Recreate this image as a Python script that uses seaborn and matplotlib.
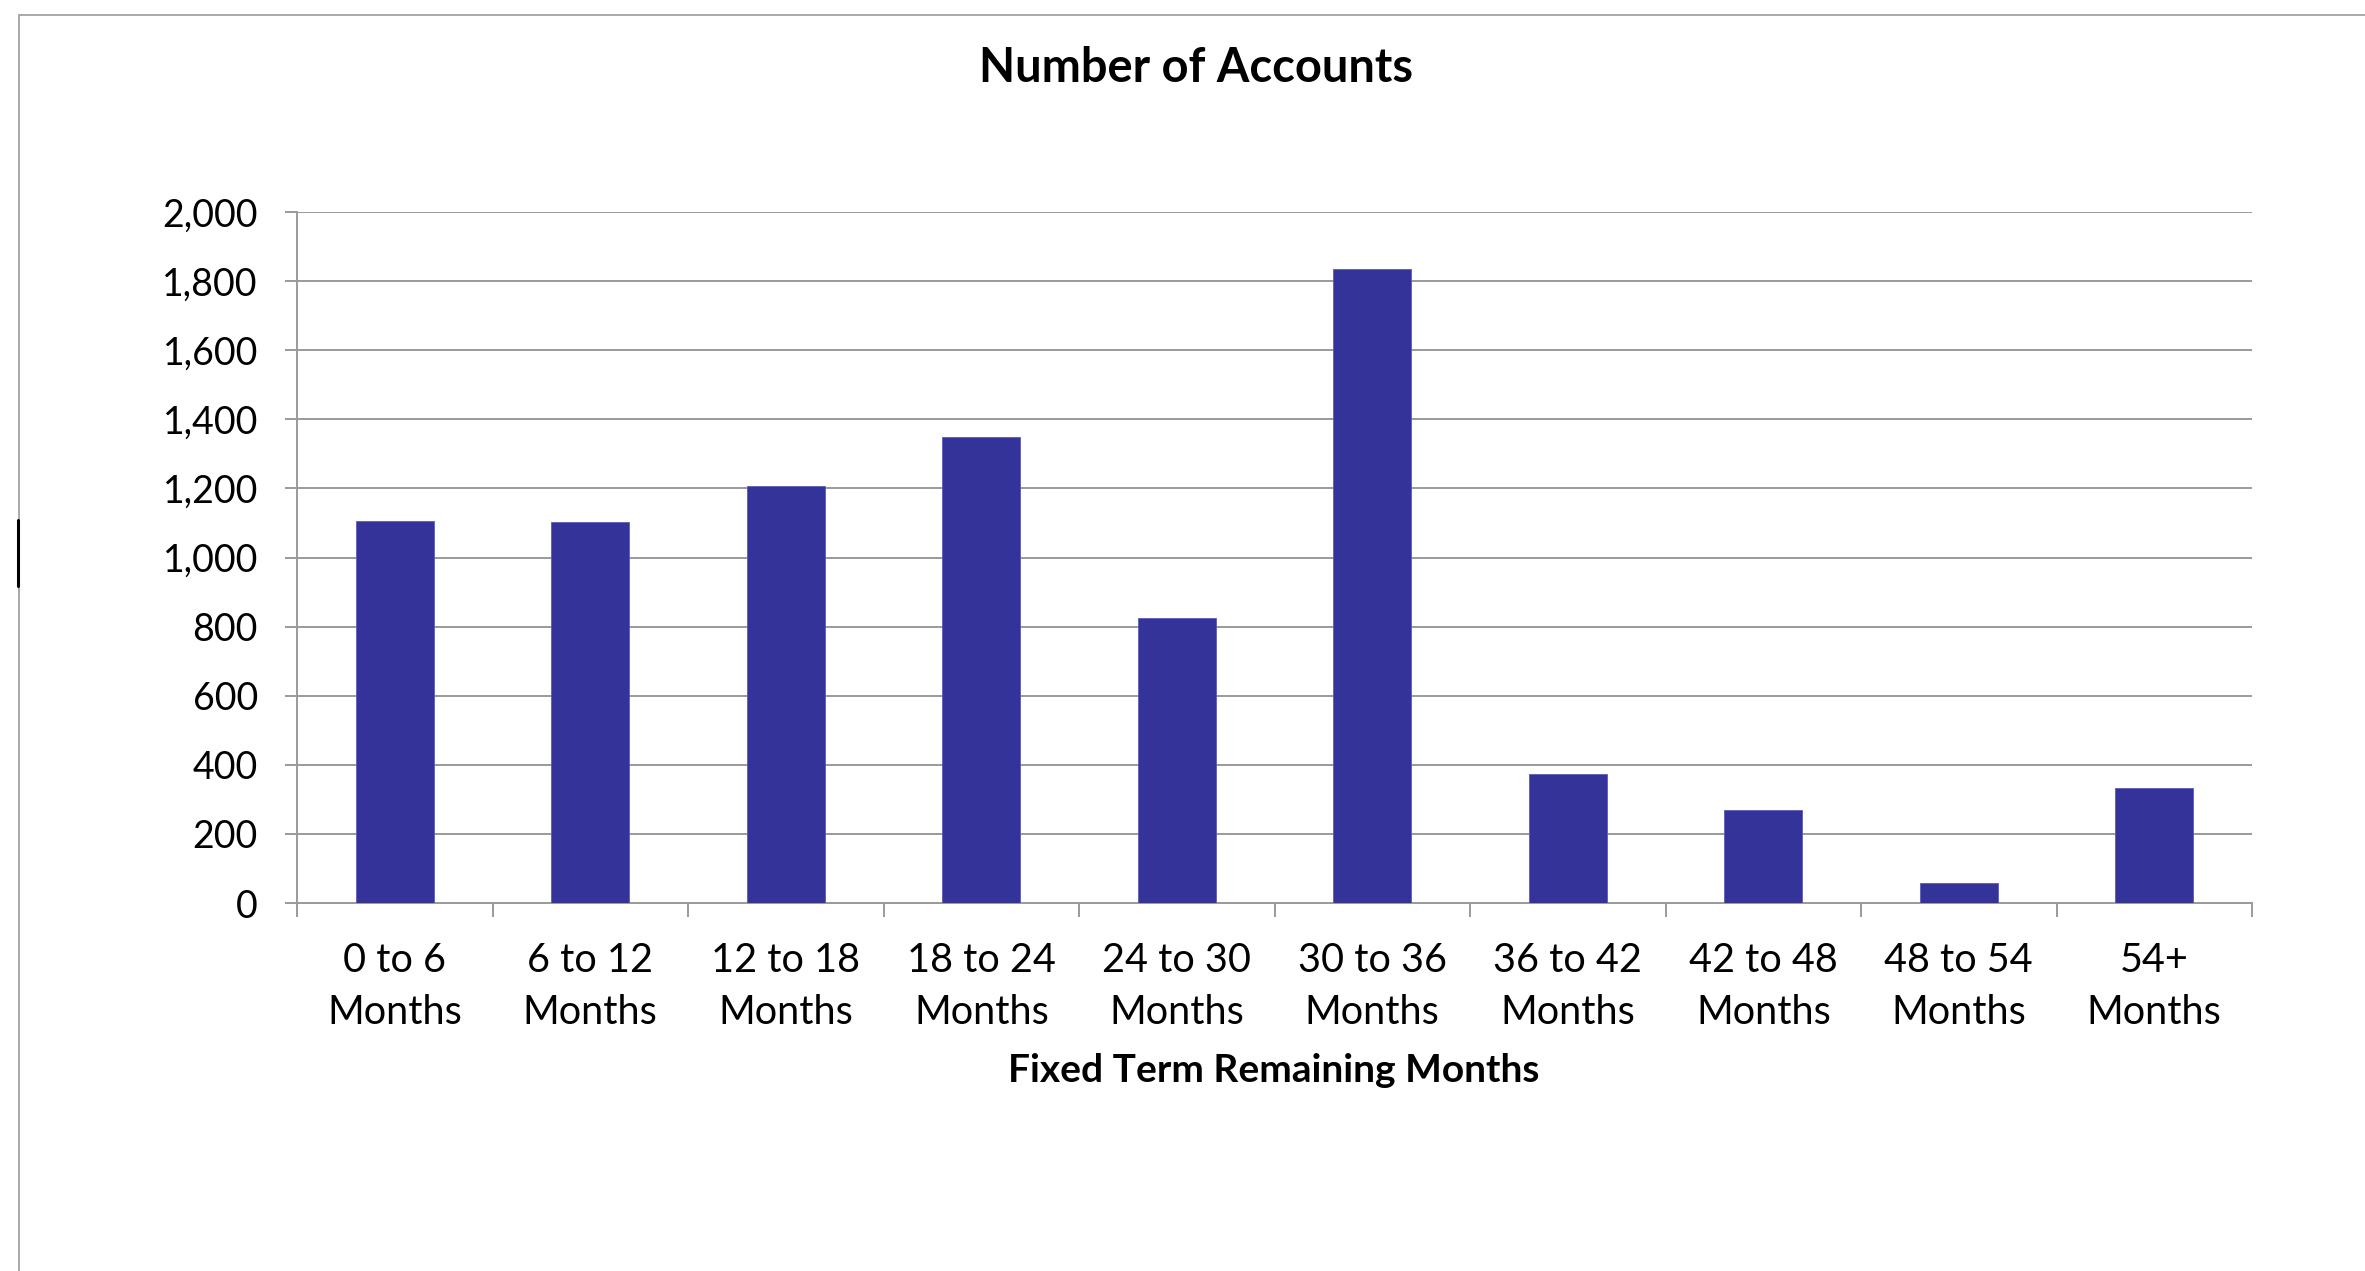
import matplotlib
matplotlib.use("Agg")
import matplotlib.pyplot as plt
from matplotlib.lines import Line2D
from matplotlib.ticker import FixedLocator, FuncFormatter
import seaborn as sns
import pandas as pd

categories = ["0 to 6\nMonths", "6 to 12\nMonths", "12 to 18\nMonths", "18 to 24\nMonths",
              "24 to 30\nMonths", "30 to 36\nMonths", "36 to 42\nMonths", "42 to 48\nMonths",
              "48 to 54\nMonths", "54+\nMonths"]
accounts = [1106, 1103, 1206, 1348, 825, 1835, 373, 268, 59, 332]
y_ticks = [0, 200, 400, 600, 800, 1000, 1200, 1400, 1600, 1800, 2000]

title = "Number of Accounts"
x_label = "Fixed Term Remaining Months"

sns.set_style("white")
plt.rcParams['font.family'] = ['Lato', 'DejaVu Sans']

W, H = 2365, 1271
DPI = 100
fig = plt.figure(figsize=(W / DPI, H / DPI), dpi=DPI)
fig.patch.set_facecolor("white")

left, right, top, bottom = 297, 2252, 212, 903
ax = fig.add_axes([left / W, 1 - bottom / H, (right - left) / W, (bottom - top) / H])

df = pd.DataFrame({"cat": categories, "val": accounts})
sns.barplot(data=df, x="cat", y="val", color="#333399", saturation=1, width=0.4,
            edgecolor="#5a5ac0", linewidth=0.6, ax=ax, zorder=3)

ax.set_xlim(-0.5, len(categories) - 0.5)
ax.set_ylim(0, 2000)
ax.set_yticks(y_ticks)
ax.yaxis.set_major_formatter(FuncFormatter(lambda v, p: f"{int(v):,}"))

grid_col = "#9a9a9a"
ax.grid(axis="y", color=grid_col, linewidth=1.4, zorder=0)
ax.set_axisbelow(True)
for s in ["top", "right"]:
    ax.spines[s].set_visible(False)
for s in ["left", "bottom"]:
    ax.spines[s].set_color(grid_col)
    ax.spines[s].set_linewidth(1.4)

ax.tick_params(axis="y", which="major", length=8.6, width=1.4, color=grid_col,
               labelsize=27, pad=19.5, labelcolor="black", left=True)
ax.tick_params(axis="x", which="major", length=0, labelsize=28.5, pad=28, labelcolor="black")
ax.xaxis.set_minor_locator(FixedLocator([i - 0.5 for i in range(len(categories) + 1)]))
ax.tick_params(axis="x", which="minor", length=10, width=1.4, color=grid_col, bottom=True)
for lab in ax.get_xticklabels():
    lab.set_linespacing(1.5)

ax.set_xlabel("")
ax.set_ylabel("")

fig.text(1196 / W, 1 - 68 / H, title, ha="center", va="center", fontsize=33.8,
         fontweight="bold", color="black")
fig.text(1274 / W, 1 - 1071 / H, x_label, ha="center", va="center", fontsize=28,
         fontweight="bold", color="black")

# outer chart frame
frame_col = "#a8a8a8"
fig.add_artist(Line2D([19 / W, 1.0], [1 - 15 / H, 1 - 15 / H], color=frame_col, linewidth=1.4))
fig.add_artist(Line2D([19 / W, 19 / W], [1 - 15 / H, 0.0], color=frame_col, linewidth=1.4))
fig.add_artist(Line2D([17.5 / W, 17.5 / W], [1 - 520 / H, 1 - 586 / H], color="black", linewidth=2.2))

fig.savefig("out.png", dpi=DPI, facecolor="white")
